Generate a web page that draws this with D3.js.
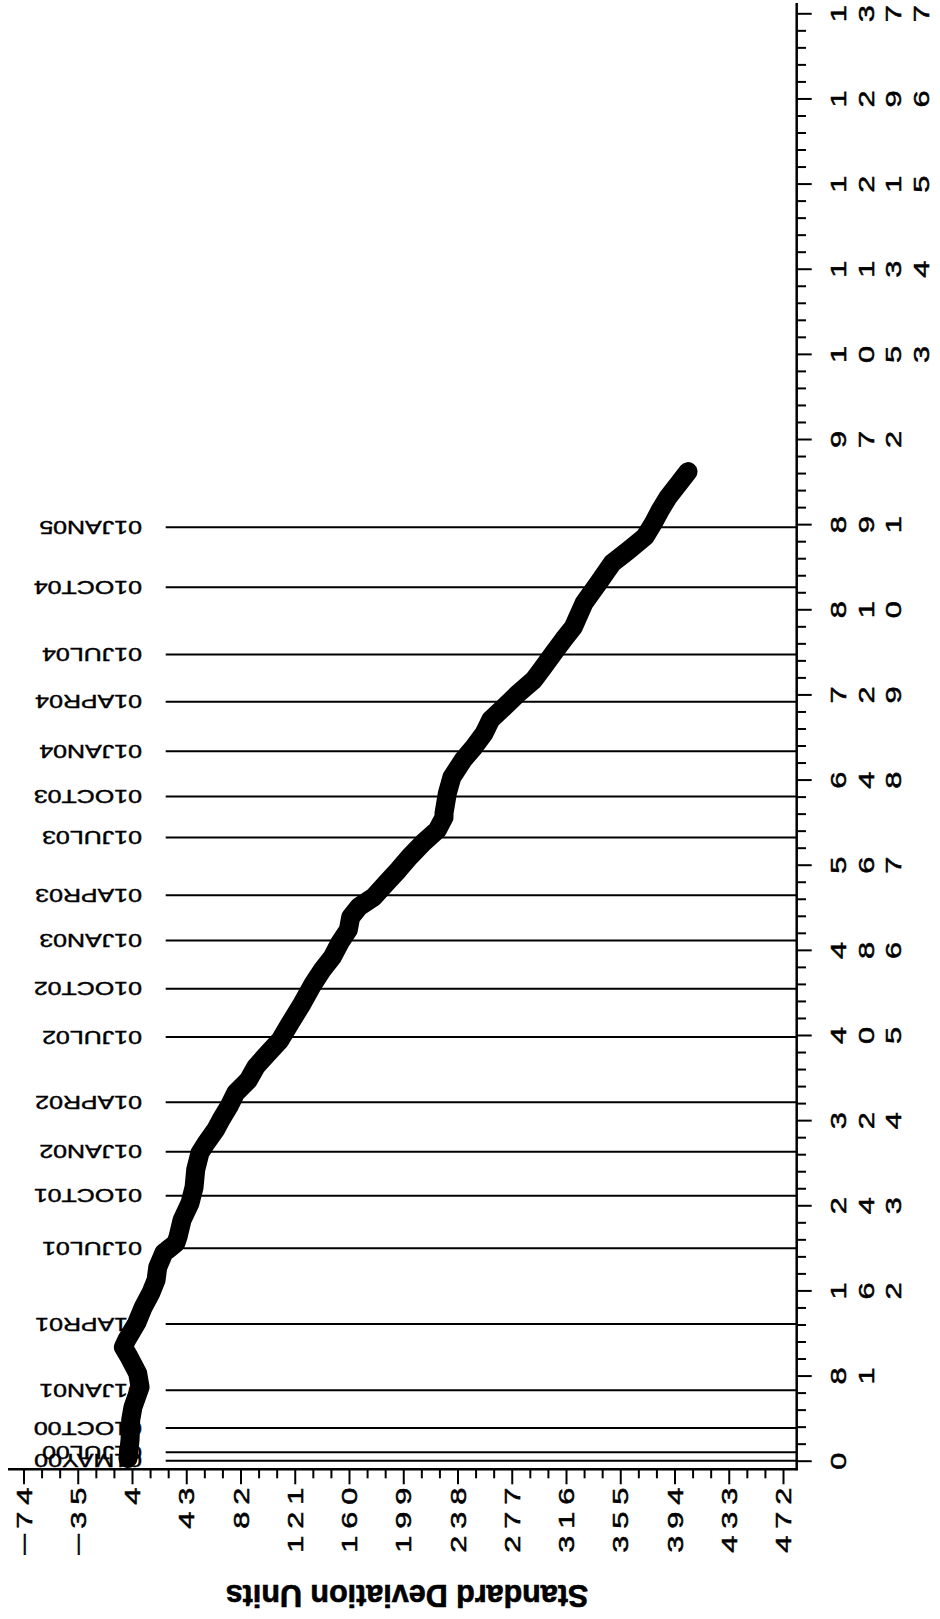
<!DOCTYPE html>
<html>
<head>
<meta charset="utf-8">
<script src="https://cdn.jsdelivr.net/npm/d3@7"></script>
<style>
  html, body { margin: 0; padding: 0; background: #fff; }
  svg { display: block; }
  text { font-family: "Liberation Sans", Arial, Helvetica, sans-serif; fill: #000; }
</style>
</head>
<body>
<svg id="chart" width="940" height="1619"></svg>
<script>
// Observation number (running count) of each plotted point
const obsIndex = [2, 20, 39, 51, 70, 83, 99, 108, 115, 131, 146, 160, 172, 184, 198, 200, 207, 213,
  229, 245, 260, 277, 293, 302, 315, 324, 337, 350, 362, 375, 388, 400, 416, 435, 454, 467,
  479, 493, 505, 517, 527, 536, 550, 562, 574, 588, 600, 612, 616, 635, 650, 667, 679, 692,
  705, 717, 730, 743, 755, 769, 781, 793, 816, 835, 854, 866, 879, 892, 904, 917, 930, 941];

// Cumulative value in standard deviation units at each observation
const sdValue = [1.1, 2.6, 3.1, 4.7, 9.8, 8.1, 1.8, -2.2, 0.2, 7.4, 12.1, 17.7, 21.3, 22.5, 27.0, 29.0, 35.6, 37.1,
  40.0, 45.7, 48.6, 49.8, 52.9, 57.2, 64.2, 67.8, 73.7, 78.6, 87.6, 93.2, 102.0, 110.4, 117.6, 126.4, 134.4, 140.8,
  148.0, 153.5, 159.5, 161.2, 167.2, 177.5, 187.1, 195.5, 203.2, 213.4, 223.5, 228.3, 228.3, 230.7, 233.9, 242.2, 249.9, 257.1,
  261.9, 271.5, 281.7, 293.0, 299.7, 307.4, 314.1, 321.3, 329.0, 339.3, 349.3, 360.8, 372.8, 378.8, 383.6, 389.6, 397.3, 403.7];

// Calendar reference marks and the observation where each date falls
const refDates = ["01MAY00", "01JUL00", "01OCT00", "01JAN01", "01APR01", "01JUL01", "01OCT01",
  "01JAN02", "01APR02", "01JUL02", "01OCT02", "01JAN03", "01APR03", "01JUL03", "01OCT03",
  "01JAN04", "01APR04", "01JUL04", "01OCT04", "01JAN05"];
const refIndex = [0, 8, 31, 67, 130, 202, 252, 294, 341, 403, 449, 495, 538, 593, 632, 675, 722, 767, 831, 888];

// Axis ticks
const sdTicks = [-74, -35, 4, 43, 82, 121, 160, 199, 238, 277, 316, 355, 394, 433, 472];
const idxTicks = [0, 81, 162, 243, 324, 405, 486, 567, 648, 729, 810, 891, 972, 1053, 1134, 1215, 1296, 1377];
const sdTitle = "Standard Deviation Units";

const svg = d3.select("#chart");

// Value axis runs left-to-right along the bottom, observation axis bottom-to-top on the right
const x = d3.scaleLinear().domain([-74, 472]).range([23.5, 783]);
const y = d3.scaleLinear().domain([0, 1377]).range([1460.7, 13.3]);

const axisRightX = 796.7;
const axisBottomY = 1469.3;

const sdMinor = [];
for (let i = 0; i < sdTicks.length - 1; i++) {
  const step = (sdTicks[i + 1] - sdTicks[i]) / 3;
  sdMinor.push(sdTicks[i] + step, sdTicks[i] + 2 * step);
}
const idxMinor = [];
for (let i = 0; i < idxTicks.length - 1; i++) {
  const step = (idxTicks[i + 1] - idxTicks[i]) / 5;
  for (let k = 1; k < 5; k++) idxMinor.push(idxTicks[i] + k * step);
}
const fmt = v => (v < 0 ? "\u2212" + Math.abs(v) : String(v));

// Wide, slightly heavy glyphs for the tick characters
function glyph(sel) {
  sel.attr("dy", "0.35em")
    .attr("text-anchor", "middle")
    .style("font-size", "22px")
    .attr("stroke", "#000")
    .attr("stroke-width", 0.5)
    .text(c => c);
}

// Date labels (upside down), drawn first so the curve sits on top of them
const labels = svg.append("g");
labels.selectAll("text")
  .data(refDates)
  .join("text")
  .attr("transform", (d, i) => `translate(142,${y(refIndex[i])}) rotate(180) scale(1.35,1)`)
  .attr("dy", "0.35em")
  .attr("text-anchor", "start")
  .style("font-size", "18.5px")
  .attr("stroke", "#000")
  .attr("stroke-width", 0.4)
  .text(d => d);

// Reference lines
svg.append("g")
  .selectAll("line")
  .data(refIndex)
  .join("line")
  .attr("x1", 165.7)
  .attr("x2", axisRightX)
  .attr("y1", d => y(d))
  .attr("y2", d => y(d))
  .attr("stroke", "#000")
  .attr("stroke-width", 2);

// Bottom axis
const gx = svg.append("g").attr("transform", `translate(0,${axisBottomY})`);
gx.call(d3.axisBottom(x).tickValues(sdTicks).tickSize(15).tickSizeOuter(0).tickFormat(""));
gx.append("g").call(d3.axisBottom(x).tickValues(sdMinor).tickSize(9).tickSizeOuter(0).tickFormat(""));
gx.selectAll(".domain").remove();
gx.selectAll("line").attr("stroke", "#000").attr("stroke-width", 2);
gx.append("line")
  .attr("x1", 8).attr("x2", axisRightX + 1)
  .attr("y1", 0).attr("y2", 0)
  .attr("stroke", "#000").attr("stroke-width", 2.5);
gx.selectAll(".tick").filter(d => sdTicks.includes(d)).each(function (d) {
  const chars = fmt(d).split("");
  const n = chars.length;
  d3.select(this).selectAll("text.ch")
    .data(chars)
    .join("text")
    .attr("class", "ch")
    .attr("transform", (c, i) =>
      `translate(0,${27 + (n - 1 - i) * 24}) rotate(-90) scale(${c === "\u2212" ? 1.9 : 1.4},1)`)
    .call(glyph);
});

// Right axis
const gy = svg.append("g").attr("transform", `translate(${axisRightX},0)`);
gy.call(d3.axisRight(y).tickValues(idxTicks).tickSize(15).tickSizeOuter(0).tickFormat(""));
gy.append("g").call(d3.axisRight(y).tickValues(idxMinor).tickSize(9.3).tickSizeOuter(0).tickFormat(""));
gy.selectAll(".domain").remove();
gy.selectAll("line").attr("stroke", "#000").attr("stroke-width", 2);
gy.append("line")
  .attr("x1", 0).attr("x2", 0)
  .attr("y1", 3).attr("y2", axisBottomY + 1)
  .attr("stroke", "#000").attr("stroke-width", 2.5);
gy.selectAll(".tick").filter(d => idxTicks.includes(d)).each(function (d) {
  const chars = String(d).split("");
  d3.select(this).selectAll("text.ch")
    .data(chars)
    .join("text")
    .attr("class", "ch")
    .attr("transform", (c, i) => `translate(${41.6 + i * 27.7},0) rotate(-90) scale(1.4,1)`)
    .call(glyph);
});

// Axis title (upside down)
svg.append("text")
  .attr("transform", "translate(407,1596) rotate(180)")
  .attr("dy", "0.35em")
  .attr("text-anchor", "middle")
  .style("font-size", "30.5px")
  .style("font-weight", "bold")
  .attr("stroke", "#000")
  .attr("stroke-width", 0.6)
  .text(sdTitle);

// The cumulative curve
const line = d3.line()
  .x(d => x(d[1]))
  .y(d => y(d[0]));
svg.append("path")
  .datum(obsIndex.map((v, i) => [v, sdValue[i]]))
  .attr("d", line)
  .attr("fill", "none")
  .attr("stroke", "#000")
  .attr("stroke-width", 19)
  .attr("stroke-linejoin", "round")
  .attr("stroke-linecap", "round");
</script>
</body>
</html>
